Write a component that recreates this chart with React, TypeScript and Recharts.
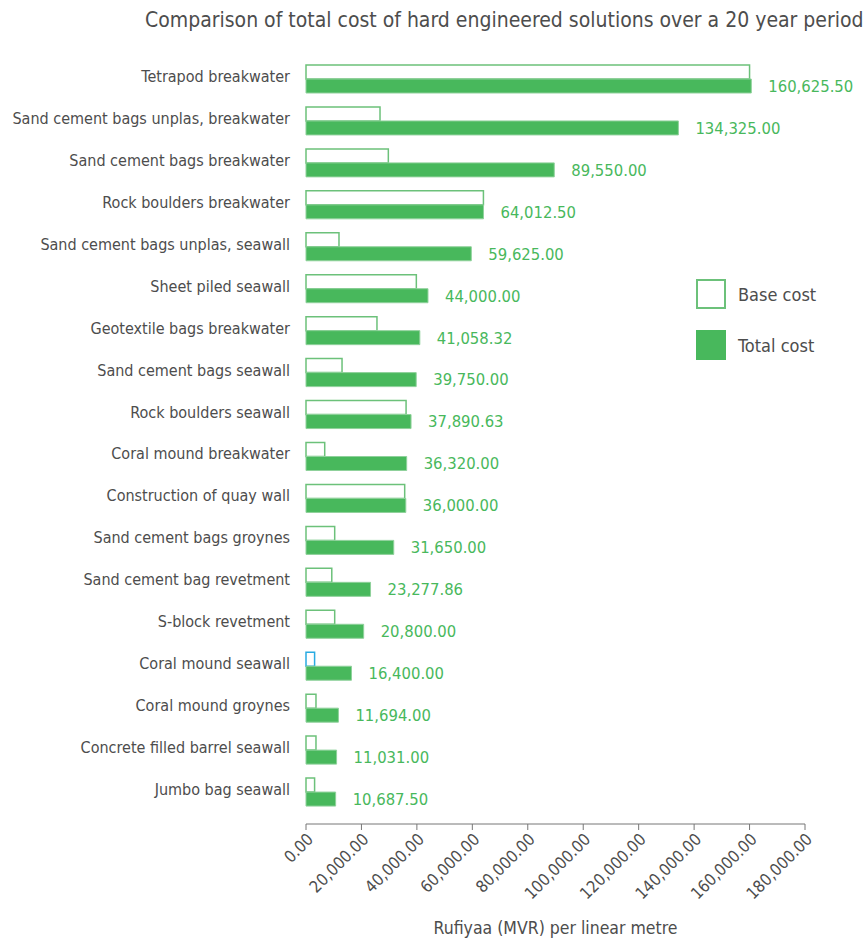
import { Bar, BarChart, Cell, LabelList, Legend, XAxis, YAxis } from "recharts";

const GREEN = "#48b85c";
const OUTLINE = "#6cc17a";
const BLUE = "#29abe2";
const GREY = "#4d4d4d";

const solutions = [
  "Tetrapod breakwater",
  "Sand cement bags unplas, breakwater",
  "Sand cement bags breakwater",
  "Rock boulders breakwater",
  "Sand cement bags unplas, seawall",
  "Sheet piled seawall",
  "Geotextile bags breakwater",
  "Sand cement bags seawall",
  "Rock boulders seawall",
  "Coral mound breakwater",
  "Construction of quay wall",
  "Sand cement bags groynes",
  "Sand cement bag revetment",
  "S-block revetment",
  "Coral mound seawall",
  "Coral mound groynes",
  "Concrete filled barrel seawall",
  "Jumbo bag seawall",
];

// approximate
const baseCost = [
  160000, 26700, 29700, 64000, 11900, 39800, 25600, 13000, 36100, 6750, 35600, 10350, 9300, 10350, 3100,
  3600, 3600, 3100,
];

const totalCost = [
  160625.5, 134325, 89550, 64012.5, 59625, 44000, 41058.32, 39750, 37890.63, 36320, 36000, 31650, 23277.86,
  20800, 16400, 11694, 11031, 10687.5,
];

const xTicks = [0, 20000, 40000, 60000, 80000, 100000, 120000, 140000, 160000, 180000];

const data = solutions.map((name, i) => ({ name, base: baseCost[i], total: totalCost[i] }));

const money = (v: number) =>
  Number(v).toLocaleString("en-US", { minimumFractionDigits: 2, maximumFractionDigits: 2 });

function NameTick({ x, y, payload }: any) {
  return (
    <text x={x} y={y} dy={3} textAnchor="end" fill={GREY} fontSize={16}>
      {payload.value}
    </text>
  );
}

function LegendBox({ payload }: any) {
  return (
    <div>
      {(payload || []).map((p: any) => {
        const filled = p.dataKey === "total";
        return (
          <div key={p.value} style={{ display: "flex", alignItems: "center", height: 30, marginBottom: 21 }}>
            <span
              style={{
                width: 30,
                height: 30,
                boxSizing: "border-box",
                background: filled ? GREEN : "#fff",
                border: filled ? "none" : `2px solid ${OUTLINE}`,
                marginRight: 12,
              }}
            />
            <span style={{ color: GREY, fontSize: 18 }}>{p.value}</span>
          </div>
        );
      })}
    </div>
  );
}

export default function App() {
  return (
    <div
      style={{
        position: "absolute",
        left: 0,
        top: 0,
        width: 867,
        height: 940,
        background: "#fff",
        fontFamily: "'DejaVu Sans Condensed', 'Liberation Sans', sans-serif",
      }}
    >
      <div style={{ position: "absolute", left: 145, top: 8, fontSize: 21, color: GREY, whiteSpace: "nowrap" }}>
        Comparison of total cost of hard engineered solutions over a 20 year period
      </div>
      <BarChart
        width={867}
        height={940}
        data={data}
        layout="vertical"
        margin={{ top: 58, right: 62, left: 0, bottom: 0 }}
        barGap={0}
      >
        <XAxis
          type="number"
          domain={[0, 180000]}
          ticks={xTicks}
          tickFormatter={money}
          angle={-45}
          textAnchor="end"
          height={116}
          tickSize={6}
          stroke="#777"
          tick={{ fill: GREY, fontSize: 16.5 }}
          label={{ value: "Rufiyaa (MVR) per linear metre", position: "insideBottom", offset: 6, fill: GREY, fontSize: 17.5 }}
        />
        <YAxis
          type="category"
          dataKey="name"
          width={306}
          axisLine={false}
          tickLine={false}
          tickSize={0}
          tickMargin={16}
          interval={0}
          padding={{ top: 0, bottom: 11 }}
          tick={<NameTick />}
        />
        <Legend
          layout="horizontal"
          verticalAlign="middle"
          align="center"
          wrapperStyle={{ left: 696, top: 279, width: 160 }}
          content={<LegendBox />}
        />
        <Bar dataKey="base" name="Base cost" barSize={14} fill="#fff" stroke={OUTLINE} strokeWidth={1.5} isAnimationActive={false}>
          {data.map((d) => (
            <Cell key={d.name} stroke={d.name === "Coral mound seawall" ? BLUE : OUTLINE} />
          ))}
        </Bar>
        <Bar dataKey="total" name="Total cost" barSize={14} fill={GREEN} stroke="#8fd19b" strokeWidth={1} isAnimationActive={false}>
          <LabelList dataKey="total" position="right" offset={17} formatter={money} fill={GREEN} fontSize={16.5} />
        </Bar>
      </BarChart>
    </div>
  );
}
